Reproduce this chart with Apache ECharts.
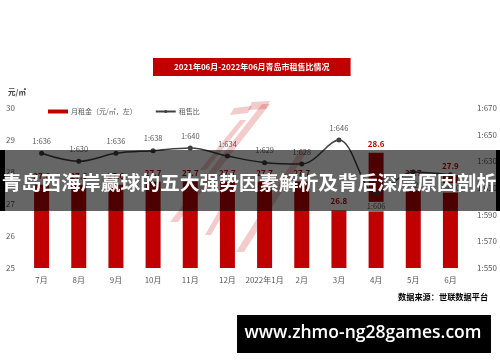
<!DOCTYPE html>
<html>
<head>
<meta charset="utf-8">
<script src="https://cdn.jsdelivr.net/npm/echarts@6/dist/echarts.min.js"></script>
<style>
html,body{margin:0;padding:0;background:#fff;}
#c{width:500px;height:362px;}
</style>
</head>
<body>
<div id="c"></div>
<script>
// ---- data ----
var months = ['7月','8月','9月','10月','11月','12月','2022年1月','2月','3月','4月','5月','6月'];
var rent = [27.6, 27.6, 27.6, 27.7, 27.7, 27.7, 27.7, 27.7, 26.8, 28.6, 27.7, 27.9];
var ratio = [636, 630, 636, 638, 640, 634, 629, 628, 646, 606, 622, 620];
var belowLabelIdx = [9, 10, 11];
var leftAxis = {min: 25, max: 30, interval: 1};
var rightAxis = {min: 550, max: 670, interval: 20};

var titleText = '2021年06月-2022年06月青岛市租售比情况';
var barName = '月租金（元/㎡，左）';
var lineName = '租售比';
var unitText = '元/㎡';
var sourceText = '数据来源：世联数据平台';
var bannerText = '青岛西海岸赢球的五大强势因素解析及背后深层原因剖析';
var siteText = 'www.zhmo-ng28games.com';

var FONT = '"Noto Sans CJK SC", "Noto Sans", sans-serif';
var GRAY = '#595959';

var ratioData = ratio.map(function (v, i) {
  var d = {value: v};
  if (belowLabelIdx.indexOf(i) >= 0) {
    d.label = {position: 'bottom', distance: 6, backgroundColor: '#fff', padding: [1, 1]};
  }
  return d;
});

var pink = 'rgba(200,20,20,0.22)';
function band(x1, y1, x2, y2, w) {
  return {type: 'polygon', z: 0, silent: true,
    shape: {points: [[x1, y1], [x1 + w, y1], [x2 + w, y2], [x2, y2]]},
    style: {fill: pink}};
}

var chart = echarts.init(document.getElementById('c'), null, {renderer: 'canvas'});
chart.setOption({
  animation: false,
  textStyle: {fontFamily: FONT},
  title: {
    text: titleText,
    left: 153, top: 58,
    backgroundColor: '#c00000',
    padding: [5, 21, 5, 21],
    textStyle: {color: '#fff', fontSize: 8, fontWeight: 'bold', fontFamily: FONT, lineHeight: 8}
  },
  legend: {
    left: 43, top: 103,
    itemWidth: 20, itemHeight: 4, itemGap: 18,
    textStyle: {fontSize: 7, color: GRAY, fontFamily: FONT, padding: [0, 0, 0, -2]},
    data: [{name: barName, icon: 'rect'}, {name: lineName}]
  },
  grid: {left: 23, right: 27, top: 108, bottom: 94, containLabel: false},
  xAxis: {
    type: 'category', data: months,
    axisLine: {show: false}, axisTick: {show: false},
    axisLabel: {fontSize: 8, color: GRAY, margin: 8, interval: 0}
  },
  yAxis: [{
    type: 'value', min: leftAxis.min, max: leftAxis.max, interval: leftAxis.interval,
    splitLine: {show: false}, axisLine: {show: false}, axisTick: {show: false},
    axisLabel: {fontSize: 8, color: GRAY, margin: 8}
  }, {
    type: 'value', min: rightAxis.min, max: rightAxis.max, interval: rightAxis.interval,
    splitLine: {show: false}, axisLine: {show: false}, axisTick: {show: false},
    axisLabel: {fontSize: 8, color: GRAY, margin: 8, formatter: function (v) { return '1:' + v; }}
  }],
  series: [{
    name: barName, type: 'bar', data: rent, barWidth: 15,
    itemStyle: {color: '#c00000'},
    label: {show: true, position: 'top', distance: 5, color: '#c00000', fontSize: 8, fontWeight: 'bold'}
  }, {
    name: lineName, type: 'line', yAxisIndex: 1, data: ratioData, smooth: 0.35,
    symbol: 'circle', symbolSize: 5,
    lineStyle: {color: '#404040', width: 1.5},
    itemStyle: {color: '#404040'},
    label: {show: true, position: 'top', distance: 6, fontSize: 7.5, color: GRAY,
      formatter: function (p) { return '1:' + p.value; }}
  }],
  graphic: [
    // pink background logo
    band(262, 104, 170, 222, 8),
    band(300, 150, 236, 252, 8),
    band(250, 104, 268, 102, 0),
    {type: 'polygon', z: 0, silent: true, shape: {points: [[234, 108], [252, 106], [248, 113], [230, 115]]}, style: {fill: pink}},
    {type: 'polygon', z: 0, silent: true, shape: {points: [[252, 102], [270, 101], [266, 109], [248, 110]]}, style: {fill: pink}},
    band(240, 120, 200, 170, 6),
    band(225, 200, 205, 235, 6),
    // unit
    {type: 'text', z: 10, left: 8, top: 88, style: {text: unitText, fill: '#404040', fontSize: 7.5, fontWeight: 'bold', fontFamily: FONT}},
    // source
    {type: 'text', z: 10, left: 398, top: 293, style: {text: sourceText, fill: '#000', fontSize: 8.2, fontWeight: 'bold', fontFamily: FONT}},
    // banner overlay
    {type: 'rect', z: 100, silent: true, shape: {x: 0, y: 150, width: 500, height: 61}, style: {fill: 'rgba(0,0,0,0.6)'}},
    {type: 'rect', z: 101, silent: true, shape: {x: 0, y: 150, width: 5, height: 61}, style: {fill: '#000'}},
    {type: 'rect', z: 101, silent: true, shape: {x: 496, y: 150, width: 4, height: 61}, style: {fill: '#000'}},
    {type: 'text', z: 102, silent: true, x: 249, y: 182,
      style: {text: bannerText, fill: '#fff', fontSize: 19.8, fontWeight: 'bold', fontFamily: FONT, align: 'center', verticalAlign: 'middle'}},
    // site watermark
    {type: 'rect', z: 100, silent: true, shape: {x: 237, y: 315, width: 254, height: 38}, style: {fill: '#000'}},
    {type: 'text', z: 102, silent: true, x: 363, y: 333.5,
      style: {text: siteText, fill: '#fff', fontSize: 17.5, fontWeight: 600, fontFamily: '"Open Sans", sans-serif', align: 'center', verticalAlign: 'middle'}}
  ]
});
</script>
</body>
</html>
